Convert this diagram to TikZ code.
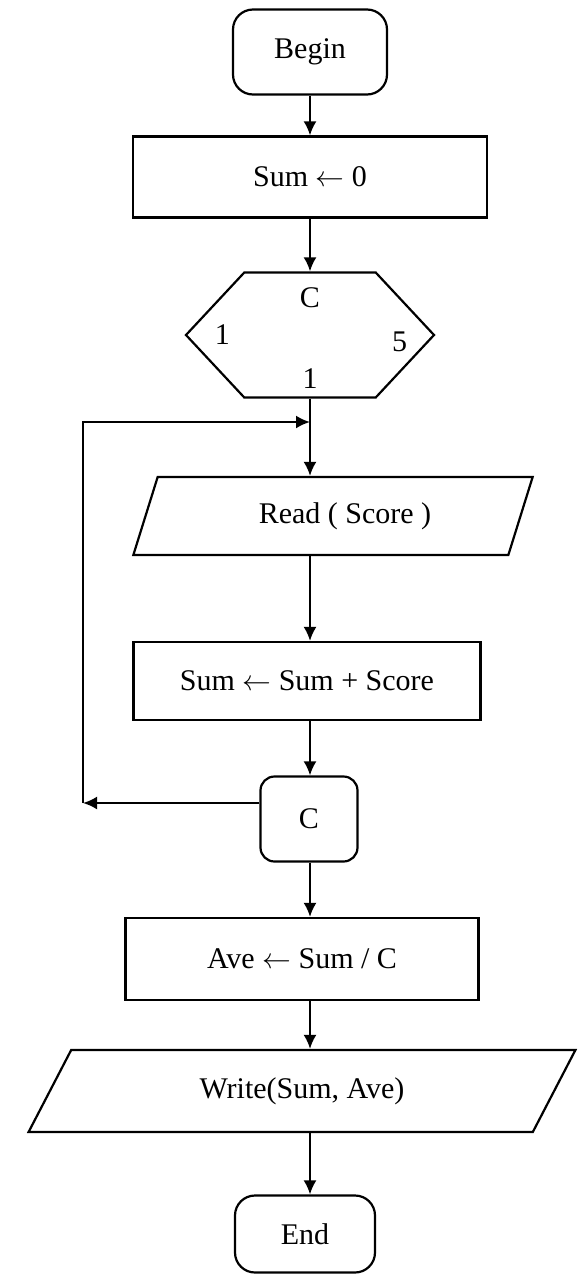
\documentclass[tikz,border=0pt]{standalone}
\usepackage{fontspec}
\setmainfont{Liberation Serif}
\usetikzlibrary{calc,positioning,arrows.meta,shapes}

\tikzset{
  terminal/.style={draw, rounded corners=10pt, line width=1.1pt, inner sep=0pt},
  process/.style={draw, line width=1.1pt, inner sep=0pt},
  io/.style={draw, trapezium, trapezium stretches=true, line width=1.1pt, inner sep=0pt},
  counter/.style={draw, signal, signal to=east and west, line width=1.1pt, inner sep=0pt},
  flow/.style={line width=1.1pt, -{Latex[length=7pt,width=6.5pt]}},
}

\begin{document}
\begin{tikzpicture}[x=0.5pt, y=-0.5pt, font=\fontsize{15}{18}\selectfont]
\useasboundingbox (0,0) rectangle (582,1275);

\node[terminal, minimum width=77pt, minimum height=42.5pt] (begin) at (310,52) {Begin};
\node[process, minimum width=177pt, minimum height=40.5pt] (sum0) at (310,177) {Sum $\leftarrow$ 0};
\node[counter, signal pointer angle=94, minimum width=124pt, minimum height=62.5pt] (loop) at (310,335) {};
\node (cvar) at ([yshift=-13pt]loop.north) {C};
\node (lo) at ([xshift=19pt]loop.west) {1};
\node (hi) at ([xshift=-18pt, yshift=-3.5pt]loop.east) {5};
\node (inc) at ([yshift=10pt]loop.south) {1};
\node[io, trapezium left angle=63.4, trapezium right angle=116.6, minimum width=200pt, minimum height=39pt] (read) at (333,516) {\hspace{12pt}Read ( Score )};
\node[process, minimum width=173.5pt, minimum height=39pt] (add) at (307,681) {Sum $\leftarrow$ Sum + Score};
\node[terminal, rounded corners=7pt, minimum width=48.5pt, minimum height=42.5pt] (cnode) at (309,819) {C};
\node[process, minimum width=176.5pt, minimum height=41pt] (ave) at (302,959) {Ave $\leftarrow$ Sum / C};
\node[io, trapezium left angle=55.2, trapezium right angle=124.8, minimum width=273.5pt, minimum height=41pt] (write) at (302,1091) {Write(Sum, Ave)};
\node[terminal, minimum width=70pt, minimum height=38.5pt] (end) at (305,1234) {End};

\coordinate (join) at (310,422);
\coordinate (back) at (83,803);

\draw[flow] (begin) -- (sum0);
\draw[flow] (sum0) -- (loop);
\draw[flow] (loop.south) -- (loop.south |- read.north);
\draw[flow] (loop.south |- read.south) -- (loop.south |- add.north);
\draw[flow] (loop.south |- add.south) -- (loop.south |- cnode.north);
\draw[flow] (loop.south |- cnode.south) -- (loop.south |- ave.north);
\draw[flow] (loop.south |- ave.south) -- (loop.south |- write.north);
\draw[flow] (loop.south |- write.south) -- (loop.south |- end.north);
\draw[flow] ([yshift=8pt]cnode.west) -- (back);
\draw[flow] (back) |- (join);

\end{tikzpicture}
\end{document}
